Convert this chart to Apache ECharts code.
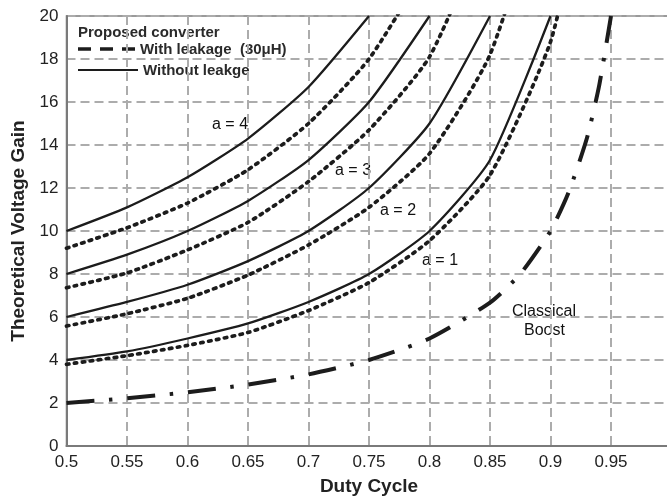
<!DOCTYPE html>
<html><head><meta charset="utf-8">
<script src="https://cdn.jsdelivr.net/npm/echarts@6/dist/echarts.min.js"></script>
<style>html,body{margin:0;padding:0;background:#fff}#c{width:667px;height:499px}</style>
</head><body><div id="c"></div>
<script>
// ---- data ----
const xTickLabels = ['0.5','0.55','0.6','0.65','0.7','0.75','0.8','0.85','0.9','0.95','1'];
const yTickLabels = ['0','2','4','6','8','10','12','14','16','18','20'];

const duty = [0.5, 0.55, 0.6, 0.65, 0.7, 0.75, 0.8, 0.85, 0.9];
const dutyA1With = [0.5, 0.55, 0.6, 0.65, 0.7, 0.75, 0.8, 0.85, 0.9, 0.925];

// Without leakage (solid)
const a4Without = [10, 11.1, 12.5, 14.3, 16.7, 20];
const a3Without = [8, 8.9, 10, 11.4, 13.3, 16, 20];
const a2Without = [6, 6.7, 7.5, 8.6, 10, 12, 15, 20];
const a1Without = [4, 4.4, 5, 5.7, 6.7, 8, 10, 13.3, 20];

// With leakage 30uH (dotted)
const a4With = [9.2, 10.15, 11.3, 12.85, 15.0, 18.0, 22.5];
const a3With = [7.36, 8.05, 9.12, 10.4, 12.3, 14.7, 18.1, 24.5];
const a2With = [5.58, 6.15, 6.87, 7.95, 9.35, 11.1, 13.6, 18.2, 27];
const a1With = [3.8, 4.2, 4.68, 5.28, 6.3, 7.6, 9.55, 12.6, 18.8, 25];

// Classical boost
const boostDuty = [0.5, 0.55, 0.6, 0.65, 0.7, 0.75, 0.8, 0.85, 0.875, 0.9, 0.915, 0.93, 0.94, 0.95];
const boostGain = [2, 2.22, 2.5, 2.86, 3.33, 4, 5, 6.67, 8, 10, 11.8, 14.3, 16.7, 20];

// ---- build ----
function pairs(xs, ys) { return ys.map((v, i) => [xs[i], v]); }
const FONT = '"Liberation Sans", Arial, Helvetica, sans-serif';
const INK = '#1c1c1c';

const solidStyle = { color: INK, width: 2.3, type: 'solid' };
const dotStyle = { color: INK, width: 3.7, type: [2.5, 5.5], cap: 'round' };

function line(name, data, style) {
  return { name, type: 'line', data, showSymbol: false, symbol: 'none',
    smooth: 0.2,
    clip: true, lineStyle: style, silent: true, animation: false, z: 3 };
}

const chart = echarts.init(document.getElementById('c'), null, { renderer: 'canvas' });
chart.setOption({
  animation: false,
  backgroundColor: '#fff',
  grid: { left: 66.5, right: -4.5, top: 16, bottom: 53, outerBoundsMode: 'none', containLabel: false,
    show: true, borderColor: '#7a7a7a', borderWidth: 1.5, backgroundColor: 'transparent' },
  xAxis: {
    type: 'value', min: 0.5, max: 1, interval: 0.05,
    name: 'Duty Cycle', nameLocation: 'middle', nameGap: 31,
    nameTextStyle: { fontFamily: FONT, fontWeight: 'bold', fontSize: 19, color: '#222' },
    axisLine: { show: true, lineStyle: { color: '#7a7a7a', width: 2 } },
    axisTick: { show: false },
    axisLabel: { fontFamily: FONT, fontSize: 17, color: '#222', margin: 8, hideOverlap: false,
      formatter: v => xTickLabels[Math.round((v - 0.5) / 0.05)] },
    splitLine: { show: true, lineStyle: { color: '#acacac', width: 2, type: [9, 5] } }
  },
  yAxis: {
    type: 'value', min: 0, max: 20, interval: 2,
    name: 'Theoretical Voltage Gain', nameLocation: 'middle', nameGap: 38,
    nameTextStyle: { fontFamily: FONT, fontWeight: 'bold', fontSize: 19, color: '#222' },
    axisLine: { show: true, lineStyle: { color: '#7a7a7a', width: 2 } },
    axisTick: { show: false },
    axisLabel: { fontFamily: FONT, fontSize: 17, color: '#222', margin: 8,
      formatter: v => yTickLabels[Math.round(v / 2)] },
    splitLine: { show: true, lineStyle: { color: '#acacac', width: 2, type: [9, 5] } }
  },
  series: [
    line('a4 without', pairs(duty, a4Without), solidStyle),
    line('a3 without', pairs(duty, a3Without), solidStyle),
    line('a2 without', pairs(duty, a2Without), solidStyle),
    line('a1 without', pairs(duty, a1Without), solidStyle),
    line('a4 with', pairs(duty, a4With), dotStyle),
    line('a3 with', pairs(duty, a3With), dotStyle),
    line('a2 with', pairs(duty, a2With), dotStyle),
    line('a1 with', pairs(dutyA1With, a1With), dotStyle),
    line('Classical Boost', pairs(boostDuty, boostGain), { color: INK, width: 4, type: [28, 14.5, 3.5, 15] })
  ],
  graphic: [
    { type: 'text', left: 78, top: 25, style: { text: 'Proposed converter', font: 'bold 15px ' + FONT, fill: '#2a2a2a' } },
    { type: 'line', shape: { x1: 78, y1: 49, x2: 136, y2: 49 }, style: { stroke: INK, lineWidth: 3.4, lineDash: [13, 9] } },
    { type: 'text', left: 140, top: 42, style: { text: 'With leakage  (30\u03BCH)', font: 'bold 15px ' + FONT, fill: '#2a2a2a' } },
    { type: 'line', shape: { x1: 78, y1: 70, x2: 138, y2: 70 }, style: { stroke: INK, lineWidth: 2 } },
    { type: 'text', left: 143, top: 63, style: { text: 'Without leakge', font: 'bold 15px ' + FONT, fill: '#2a2a2a' } },
    { type: 'text', left: 212, top: 117, style: { text: 'a = 4', font: '16px ' + FONT, fill: '#111' } },
    { type: 'text', left: 335, top: 163, style: { text: 'a = 3', font: '16px ' + FONT, fill: '#111' } },
    { type: 'text', left: 380, top: 203, style: { text: 'a = 2', font: '16px ' + FONT, fill: '#111' } },
    { type: 'text', left: 422, top: 253, style: { text: 'a = 1', font: '16px ' + FONT, fill: '#111' } },
    { type: 'text', left: 512, top: 304, style: { text: 'Classical', font: '16px ' + FONT, fill: '#111' } },
    { type: 'text', left: 524, top: 323, style: { text: 'Boost', font: '16px ' + FONT, fill: '#111' } }
  ]
});
</script>
</body></html>
